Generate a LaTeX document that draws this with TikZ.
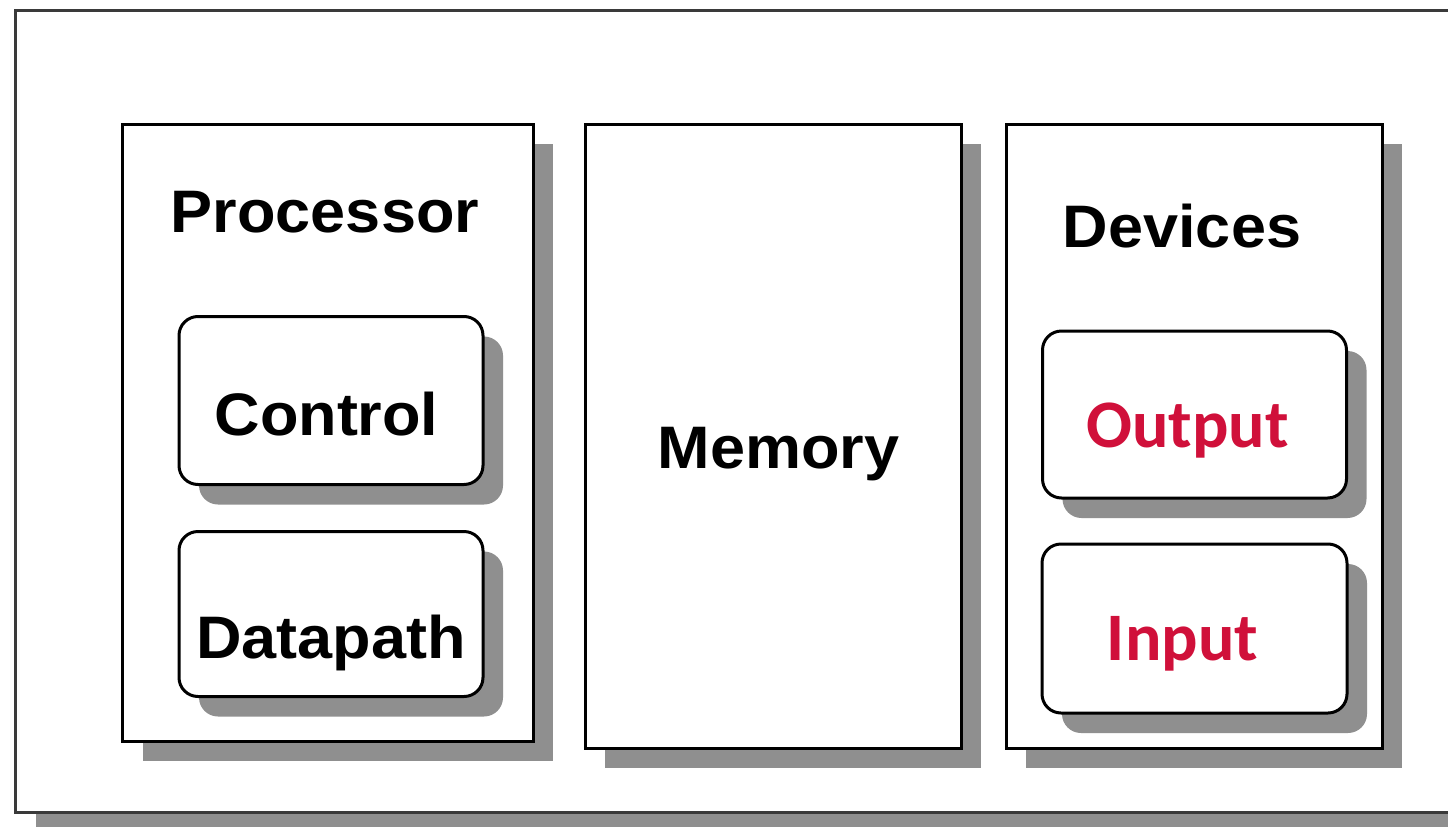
\documentclass[tikz,border=0pt]{standalone}
\usepackage{fontspec}
\newfontfamily\blkfont{Liberation Sans}[FakeStretch=1.05]
\newfontfamily\redfont{Carlito}
\usetikzlibrary{shadows}
\definecolor{shadowgray}{HTML}{8F8F8F}
\definecolor{framegray}{HTML}{3A3A3A}
\definecolor{lblred}{RGB}{208,16,58}
\tikzset{
  sh/.style={drop shadow={shadow xshift=20pt, shadow yshift=-20pt, fill=shadowgray, opacity=1}},
  panel/.style={draw=black, line width=3pt, fill=white, sh, inner sep=0pt},
  rbox/.style={panel, rounded corners=19pt},
  blk/.style={font=\blkfont\bfseries\fontsize{60}{72}\selectfont, text=black, inner sep=0pt, anchor=base},
  red/.style={font=\redfont\bfseries\fontsize{68}{80}\selectfont, text=lblred, inner sep=0pt, anchor=base}
}
\begin{document}
\begin{tikzpicture}[x=1pt,y=-1pt]
\useasboundingbox (0,0) rectangle (1448,827);
\clip (0,0) rectangle (1448,827);
\fill[white] (0,0) rectangle (1448,827);
% outer frame
\node[panel, draw=framegray, minimum width=1480pt, minimum height=802pt] (frame) at (755.5,411) {};
% main panels
\node[panel, minimum width=410.5pt, minimum height=617pt] (proc) at (327.75,432.5) {};
\node[panel, minimum width=376pt, minimum height=624pt] (mem) at (773,436) {};
\node[panel, minimum width=376pt, minimum height=624pt] (dev) at (1194,436) {};
% inner rounded boxes
\node[rbox, minimum width=304pt, minimum height=168pt] (ctrl) at (331,400.5) {};
\node[rbox, minimum width=304pt, minimum height=165pt] (dp) at (331,614) {};
\node[rbox, minimum width=304pt, minimum height=167pt] (out) at (1194.5,414.5) {};
\node[rbox, minimum width=305pt, minimum height=169pt] (in) at (1194.5,628.5) {};
% labels
\node[blk] (tproc) at (325,232) {Processor};
\node[blk] (tctrl) at (326.5,435) {Control};
\node[blk] (tdp) at (331,658) {Datapath};
\node[blk] (tmem) at (778.5,468) {Memory};
\node[blk] (tdev) at (1182,247) {Devices};
\node[red] (tout) at (1187.5,447) {Output};
\node[red] (tin) at (1182.5,660) {Input};
\end{tikzpicture}
\end{document}
